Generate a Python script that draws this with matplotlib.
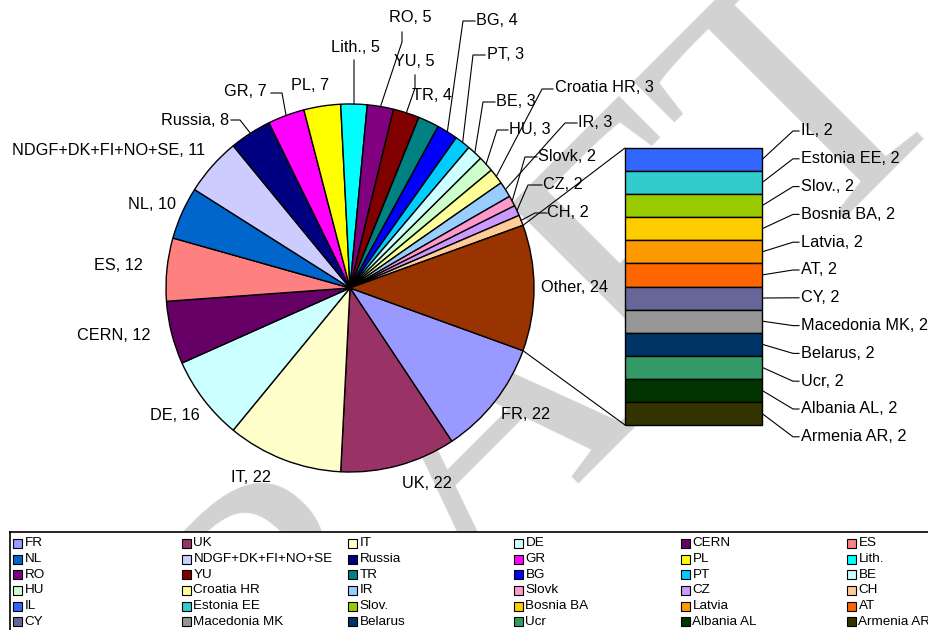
import numpy as np
import matplotlib.pyplot as plt
from matplotlib.patches import Rectangle, ConnectionPatch

plt.rcParams['font.family'] = ['Liberation Sans', 'DejaVu Sans']

# slices of the pie, clockwise from the lower edge of "Other"
countries = ["FR", "UK", "IT", "DE", "CERN", "ES", "NL", "NDGF+DK+FI+NO+SE",
             "Russia", "GR", "PL", "Lith.", "RO", "YU", "TR", "BG", "PT", "BE",
             "HU", "Croatia HR", "IR", "Slovk", "CZ", "CH"]
counts = [22, 22, 22, 16, 12, 12, 10, 11, 8, 7, 7, 5, 5, 5, 4, 4, 3, 3, 3, 3, 3, 2, 2, 2]
pie_colors = ["#9999FF", "#993366", "#FFFFCC", "#CCFFFF", "#660066", "#FF8080",
              "#0066CC", "#CCCCFF", "#000080", "#FF00FF", "#FFFF00", "#00FFFF",
              "#800080", "#800000", "#008080", "#0000FF", "#00CCFF", "#CCFFFF",
              "#CCFFCC", "#FFFF99", "#99CCFF", "#FF99CC", "#CC99FF", "#FFCC99"]

# small ones, grouped in "Other" and split out in the bar
small = ["IL", "Estonia EE", "Slov.", "Bosnia BA", "Latvia", "AT", "CY",
         "Macedonia MK", "Belarus", "Ucr", "Albania AL", "Armenia AR"]
small_counts = [2, 2, 2, 2, 2, 2, 2, 2, 2, 2, 2, 2]
small_colors = ["#3366FF", "#33CCCC", "#99CC00", "#FFCC00", "#FF9900", "#FF6600",
                "#666699", "#969696", "#003366", "#339966", "#003300", "#333300"]
other_label = "Other"
other_color = "#993300"

W, H = 929, 630
CX, CY, R = 350, 288, 184   # pie centre / radius in pixels


def P(x, y):
    # pixel position -> pie axes data units
    return (x - CX) / R, (CY - y) / R


# label centres (pixels) and leader line attach/elbow points
label_pos = {
    "FR": (526, 415), "UK": (427, 484), "IT": (251, 478), "DE": (175, 416),
    "CERN": (114, 336), "ES": (118, 266), "NL": (152, 205),
    "NDGF+DK+FI+NO+SE": (108, 151), "Russia": (195, 121), "GR": (245, 92),
    "PL": (310, 86), "Lith.": (355, 48), "RO": (410, 18), "YU": (414, 62),
    "TR": (432, 96), "BG": (497, 21), "PT": (506, 55), "BE": (516, 102),
    "HU": (530, 130), "Croatia HR": (604, 88), "IR": (595, 123),
    "Slovk": (567, 157), "CZ": (563, 185), "CH": (568, 213), "Other": (575, 288),
}
leaders = {
    "Russia": ((231, 120), (240, 120)), "GR": ((271, 93), (282, 93)),
    "Lith.": ((354, 60), (354, 60)), "RO": ((402, 32), (402, 42)),
    "YU": ((415, 75), (415, 88)), "BG": ((475, 21), (463, 21)),
    "PT": ((485, 55), (473, 55)), "BE": ((495, 102), (483, 102)),
    "HU": ((508, 130), (497, 130)), "Croatia HR": ((553, 89), (542, 89)),
    "IR": ((577, 123), (565, 123)), "Slovk": ((537, 157), (525, 157)),
    "CZ": ((542, 185), (528, 185)), "CH": ((547, 213), (535, 213)),
}

fig = plt.figure(figsize=(W / 100, H / 100), dpi=100)
fig.patch.set_facecolor("white")

# DRAFT watermark behind everything
fig.text(526 / W, 1 - 526 / H, "DRAFT", fontsize=271, family="Liberation Serif",
         rotation=45, rotation_mode="anchor", ha="center", va="baseline",
         color="#d2d2d2", zorder=-5)

ax = fig.add_axes([0, 0, 1, 1])
ax.patch.set_alpha(0)
values = counts + [sum(small_counts)]
total = sum(values)
start = -sum(small_counts) / total * 180
ax.pie(values, colors=pie_colors + [other_color], startangle=start,
       counterclock=False, radius=1,
       wedgeprops=dict(edgecolor="black", linewidth=1))
ax.set_xlim(-CX / R, (W - CX) / R)
ax.set_ylim(-(H - CY) / R, CY / R)
ax.axis("off")

# data labels
cum = np.concatenate([[0], np.cumsum(values)])
names = countries + [other_label]
for i, (name, v) in enumerate(zip(names, values)):
    mid = np.radians(start - (cum[i] + v / 2) / total * 360)
    edge = (np.cos(mid), np.sin(mid))
    tx, ty = P(*label_pos[name])
    ax.text(tx, ty, f"{name}, {v}", fontsize=11.7, ha="center", va="center")
    if name in leaders:
        a, e = leaders[name]
        pts = [edge, P(*e), P(*a)]
        ax.plot([p[0] for p in pts], [p[1] for p in pts], color="black", lw=0.8)

# stacked bar for the "Other" slice
bax = fig.add_axes([625 / W, (H - 425) / H, 137 / W, 277 / H])
bottoms = np.concatenate([[0], np.cumsum(small_counts)[:-1]])
bax.bar(0, small_counts, bottom=bottoms, width=1, color=small_colors,
        edgecolor="black", linewidth=1, clip_on=False)
bax.set_xlim(-0.5, 0.5)
bax.set_ylim(sum(small_counts), 0)
bax.axis("off")

# lines joining the pie slice to the bar
top_ang = np.radians(-start)
for ang, yb in [(top_ang, 0), (np.radians(start), sum(small_counts))]:
    con = ConnectionPatch(xyA=(np.cos(ang), np.sin(ang)), coordsA=ax.transData,
                          xyB=(-0.5, yb), coordsB=bax.transData,
                          color="black", lw=0.8)
    fig.add_artist(con)

# bar labels with leaders
fig.canvas.draw()
inv = ax.transData.inverted()
for i, (name, v) in enumerate(zip(small, small_counts)):
    yc = bottoms[i] + v / 2
    p0 = inv.transform(bax.transData.transform((0.5, yc)))
    ly = 131 + 27.8 * i
    e = P(793, ly)
    a = P(799, ly)
    ax.plot([p0[0], e[0], a[0]], [p0[1], e[1], a[1]], color="black", lw=0.8)
    ax.text(*P(801, ly), f"{name}, {v}", fontsize=11.7, ha="left", va="center")

# legend box at the bottom
lax = fig.add_axes([10 / W, 0, 1 - 10 / W, (H - 532) / H])
lax.set_xlim(10, W)
lax.set_ylim(H, 532)
lax.set_facecolor("white")
lax.set_xticks([])
lax.set_yticks([])
for s in ["right", "bottom"]:
    lax.spines[s].set_visible(False)
for s in ["top", "left"]:
    lax.spines[s].set_linewidth(1.2)

col_x = [13, 182, 348, 514, 681, 847]
leg_names = countries + small
leg_colors = pie_colors + small_colors
for i, (name, c) in enumerate(zip(leg_names, leg_colors)):
    x = col_x[i % 6]
    y = 543.3 + 15.7 * (i // 6)
    lax.add_patch(Rectangle((x, y - 4.5), 9, 9, facecolor=c, edgecolor="black",
                            linewidth=0.8))
    lax.text(x + 11.5, y, name, fontsize=9.7, ha="left", va="center")

fig.savefig("out.png", dpi=100)
